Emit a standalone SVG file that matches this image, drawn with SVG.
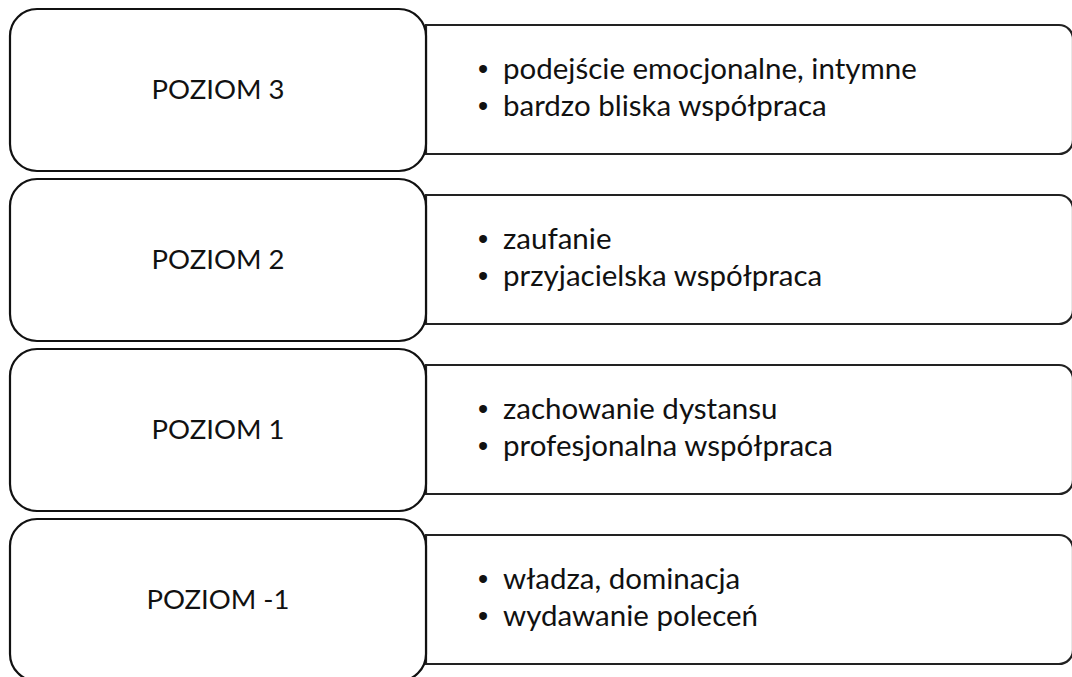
<svg xmlns="http://www.w3.org/2000/svg" width="1072" height="677" viewBox="0 0 1072 677">
  <style>
    .lvl { fill: #ffffff; stroke: #111111; stroke-width: 2.2; }
    .desc { fill: #ffffff; stroke: #222222; stroke-width: 2.2; }
    .t { font-family: Lato, "Liberation Sans", sans-serif; font-size: 29.5px; fill: #111111; }
    .c { text-anchor: middle; font-size: 27.5px; }
    .b { font-family: "Liberation Sans", sans-serif; font-size: 29px; fill: #111111; }
  </style>
  <defs>
    <!-- description panel: square left side, rounded right side -->
    <path id="panel" d="M426 0 H1059 A14 14 0 0 1 1073 14 V115 A14 14 0 0 1 1059 129 H426 Z"/>
  </defs>

  <g id="level3" transform="translate(0,0)">
    <use href="#panel" class="desc" y="25"/>
    <rect class="lvl" x="10" y="9" width="416" height="162" rx="27"/>
    <text class="t c" x="218" y="99">POZIOM 3</text>
    <text class="b" x="478" y="79">•</text>
    <text class="t" x="503" y="79">podejście emocjonalne, intymne</text>
    <text class="b" x="478" y="116">•</text>
    <text class="t" x="503" y="116">bardzo bliska współpraca</text>
  </g>

  <g id="level2" transform="translate(0,170)">
    <use href="#panel" class="desc" y="25"/>
    <rect class="lvl" x="10" y="9" width="416" height="162" rx="27"/>
    <text class="t c" x="218" y="99">POZIOM 2</text>
    <text class="b" x="478" y="79">•</text>
    <text class="t" x="503" y="79">zaufanie</text>
    <text class="b" x="478" y="116">•</text>
    <text class="t" x="503" y="116">przyjacielska współpraca</text>
  </g>

  <g id="level1" transform="translate(0,340)">
    <use href="#panel" class="desc" y="25"/>
    <rect class="lvl" x="10" y="9" width="416" height="162" rx="27"/>
    <text class="t c" x="218" y="99">POZIOM 1</text>
    <text class="b" x="478" y="79">•</text>
    <text class="t" x="503" y="79">zachowanie dystansu</text>
    <text class="b" x="478" y="116">•</text>
    <text class="t" x="503" y="116">profesjonalna współpraca</text>
  </g>

  <g id="level-1" transform="translate(0,510)">
    <use href="#panel" class="desc" y="25"/>
    <rect class="lvl" x="10" y="9" width="416" height="162" rx="27"/>
    <text class="t c" x="218" y="99">POZIOM -1</text>
    <text class="b" x="478" y="79">•</text>
    <text class="t" x="503" y="79">władza, dominacja</text>
    <text class="b" x="478" y="116">•</text>
    <text class="t" x="503" y="116">wydawanie poleceń</text>
  </g>

  <g id="connectors"/>
</svg>
